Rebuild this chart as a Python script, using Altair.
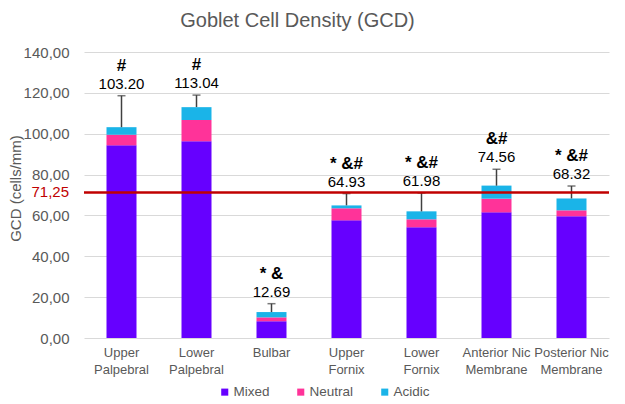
import altair as alt
import pandas as pd

categories = ["Upper\nPalpebral", "Lower\nPalpebral", "Bulbar", "Upper\nFornix",
              "Lower\nFornix", "Anterior Nic\nMembrane", "Posterior Nic\nMembrane"]
mixed = [94.3, 96.3, 8.2, 57.6, 54.2, 61.5, 59.6]
neutral = [5.2, 10.4, 1.9, 5.9, 3.9, 6.7, 2.9]
acidic = [3.7, 6.3, 2.6, 1.4, 3.9, 6.4, 5.8]
totals = [103.20, 113.04, 12.69, 64.93, 61.98, 74.56, 68.32]
err_top = [118.6, 118.9, 16.8, 70.7, 71.0, 82.6, 74.4]
symbols = ["#", "#", "* &", "* &#", "* &#", "&#", "* &#"]
reference = 71.25
series = ["Mixed", "Neutral", "Acidic"]
colors = ["#6600FF", "#FF3399", "#1AB4E8"]

FONT = "Liberation Sans"
GRAY = "#595959"

rows = []
for i, c in enumerate(categories):
    for k, (s, vals) in enumerate(zip(series, [mixed, neutral, acidic])):
        rows.append({"cat": c, "series": s, "value": vals[i], "order": k})
bars_df = pd.DataFrame(rows)
ann_df = pd.DataFrame({"cat": categories, "total": totals, "err": err_top,
                       "sym": symbols, "lab": [f"{t:.2f}" for t in totals]})

x_enc = alt.X("cat:N", sort=categories, title=None,
              scale=alt.Scale(paddingInner=0.6, paddingOuter=0.3),
              axis=alt.Axis(labelExpr="split(datum.label, '\\n')", labelAngle=0,
                            labelFont=FONT, labelFontSize=13, labelColor=GRAY,
                            labelPadding=8, ticks=False, domain=False,
                            labelLineHeight=17))
y_scale = alt.Scale(domain=[0, 140])

bars = alt.Chart(bars_df).mark_bar(size=30).encode(
    x=x_enc,
    y=alt.Y("value:Q", stack="zero", scale=y_scale, title="GCD (cells/mm)",
            axis=alt.Axis(values=list(range(0, 141, 20)),
                          labelExpr="replace(format(datum.value, '.2f'), '.', ',')",
                          labelFont=FONT, labelFontSize=15, labelColor=GRAY,
                          labelPadding=15, titleFont=FONT, titleFontSize=15,
                          titleFontWeight="normal", titleColor=GRAY,
                          titleAngle=-90, titleAlign="center", titleBaseline="middle",
                          titleX=-69, titleY=136,
                          ticks=False, domain=False, gridColor="#D9D9D9")),
    color=alt.Color("series:N", sort=series,
                    scale=alt.Scale(domain=series, range=colors),
                    legend=alt.Legend(title=None, orient="none", direction="horizontal",
                                      legendX=134, legendY=333, symbolType="square",
                                      symbolSize=50, symbolStrokeWidth=0,
                                      labelFont=FONT, labelFontSize=13.5, labelColor=GRAY,
                                      columnPadding=24, labelOffset=2)),
    order=alt.Order("order:Q"),
)

err_rule = alt.Chart(ann_df).mark_rule(color="#404040", strokeWidth=1.5).encode(
    x=alt.X("cat:N", sort=categories), y="total:Q", y2="err:Q")
err_cap = alt.Chart(ann_df).mark_tick(color="#404040", thickness=1.5, size=8,
                                      orient="horizontal").encode(
    x=alt.X("cat:N", sort=categories), y="err:Q")

val_text = alt.Chart(ann_df).mark_text(font=FONT, fontSize=15, color="black",
                                       baseline="bottom", dy=-4).encode(
    x=alt.X("cat:N", sort=categories), y="err:Q", text="lab:N")
sym_text = alt.Chart(ann_df).mark_text(font=FONT, fontSize=17, fontWeight="bold",
                                       color="black", baseline="bottom", dy=-21).encode(
    x=alt.X("cat:N", sort=categories), y="err:Q", text="sym:N")

ref_df = pd.DataFrame({"y": [reference], "lab": ["71,25"]})
ref_rule = alt.Chart(ref_df).mark_rule(color="#C00000", strokeWidth=2.5).encode(y="y:Q")
ref_text = alt.Chart(ref_df).mark_text(font=FONT, fontSize=15, color="#C00000",
                                       align="right", baseline="middle").encode(
    x=alt.value(-15), y="y:Q", text="lab:N")

chart = alt.layer(bars, err_rule, err_cap, ref_rule, ref_text, val_text, sym_text).properties(
    width=525, height=286,
    title=alt.TitleParams("Goblet Cell Density (GCD)", font=FONT, fontSize=20,
                          fontWeight="normal", color=GRAY, anchor="middle",
                          offset=14, dx=-49),
    autosize=alt.AutoSizeParams(type="none"),
    padding={"left": 76, "top": 44, "right": 8, "bottom": 64},
).configure_view(stroke=None)

chart.save("out.html", embed_options={"renderer": "svg", "actions": False})
